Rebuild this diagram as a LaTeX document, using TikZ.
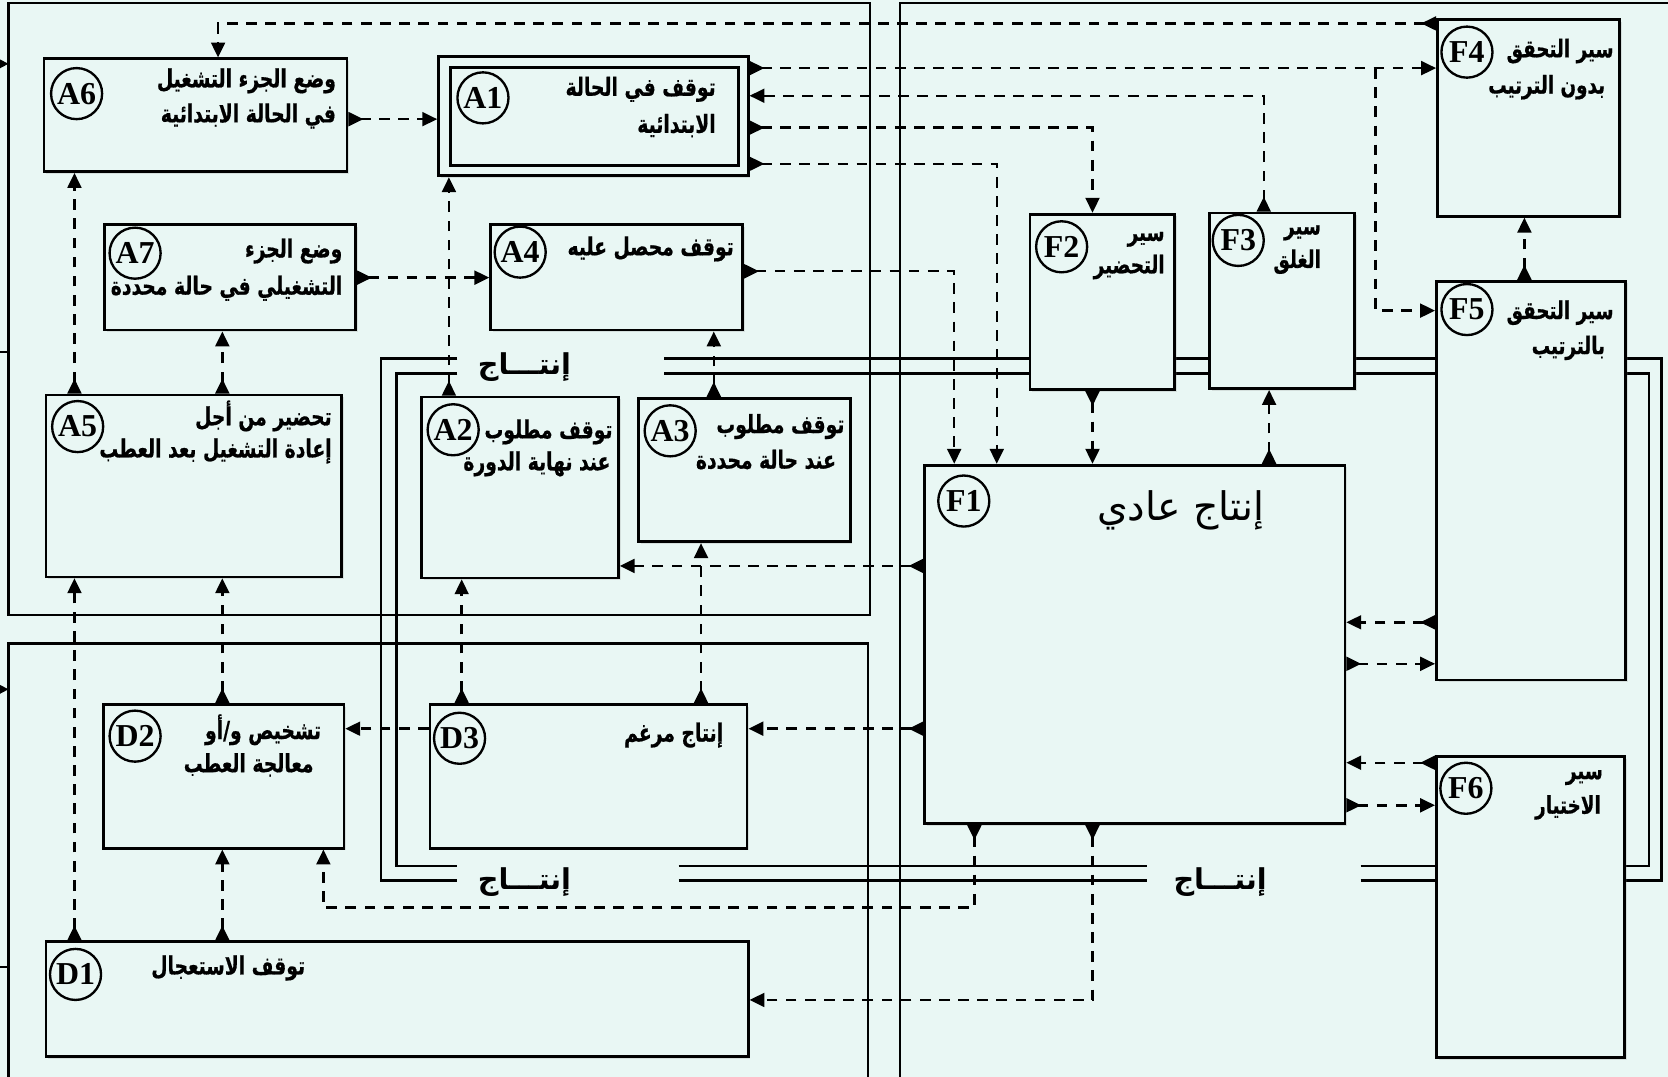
\documentclass[tikz,border=0pt]{standalone}
\usepackage{fontspec}
\usetikzlibrary{arrows.meta,shadows}
\TeXXeTstate=1
\newfontfamily\arfont[Script=Arabic, FakeStretch=0.75, BoldFeatures={FakeBold=0.6}]{DejaVu Sans}
\newfontfamily\arwide[Script=Arabic]{DejaVu Sans}
\newfontfamily\serfont{Liberation Serif}
\definecolor{bgc}{RGB}{233,247,244}
\pgfdeclarelayer{bglayer}
\pgfsetlayers{bglayer,main}
\newcommand\RL[1]{\beginR #1\endR}
\newcommand\gb[5]{\node[gbox, minimum width=#4pt, minimum height=#5pt] (#1) at (#2,#3) {};}
\begin{document}
\begin{tikzpicture}[x=1pt,y=-1pt, line join=miter,
  gbox/.style={draw, line width=2.6pt, fill=bgc, inner sep=0pt, anchor=north west,
    drop shadow={shadow xshift=2pt, shadow yshift=-2pt, opacity=0.2}},
  clab/.style={circle, draw, line width=2.2pt, fill=bgc, minimum size=48pt, inner sep=0pt,
    font=\serfont\bfseries\fontsize{30}{30}\selectfont},
  atext/.style={inner sep=0pt, anchor=east, font=\arfont\bfseries\fontsize{23.5}{27}\selectfont},
  ftext/.style={inner sep=0pt, anchor=east, font=\arfont\bfseries\fontsize{23}{27}\selectfont},
  plab/.style={inner sep=0pt, font=\arwide\bfseries\fontsize{27}{30}\selectfont},
  flow/.style={dash pattern=on 10pt off 8pt, line width=2.3pt,
    {Triangle[reversed,length=14pt,width=13pt]}-{Triangle[length=14pt,width=13pt]}},
  flowe/.style={dash pattern=on 10pt off 8pt, line width=2.3pt, -{Triangle[length=14pt,width=13pt]}},
  prod/.style={line width=2.5pt},
  frm/.style={line width=2.2pt}]

\useasboundingbox (0,0) rectangle (1568,1012);

% ---------- boxes ----------
\gb{A6}{40}{54}{285}{106}
\gb{A1}{411}{52}{291}{112}
\node[draw, line width=2.6pt, fill=bgc, inner sep=0pt, anchor=north west, minimum width=271pt, minimum height=92pt] (A1i) at (422,62) {};
\gb{A7}{97}{210}{236}{99}
\gb{A4}{460}{210}{237}{99}
\gb{A5}{42}{370}{278}{171}
\gb{A2}{395}{372}{185}{170}
\gb{A3}{599}{373}{199}{135}
\gb{F2}{967}{200}{136}{165}
\gb{F3}{1136}{199}{136}{165}
\gb{F4}{1350}{17}{171}{185}
\gb{F5}{1349}{263}{178}{375}
\gb{F6}{1349}{710}{177}{283}
\gb{F1}{868}{436}{395}{337}
\gb{D2}{96}{661}{226}{135}
\gb{D3}{403}{661}{298}{135}
\gb{D1}{42}{884}{660}{108}

% ---------- circles ----------
\node[clab] (cA6) at (72,88) {A6};
\node[clab] (cA1) at (454,92) {A1};
\node[clab] (cA7) at (127,238) {A7};
\node[clab] (cA4) at (489,237) {A4};
\node[clab] (cA5) at (73,401) {A5};
\node[clab] (cA2) at (426,404) {A2};
\node[clab] (cA3) at (630,405) {A3};
\node[clab] (cF1) at (906,471) {F1};
\node[clab] (cF2) at (998,232) {F2};
\node[clab] (cF3) at (1164,226) {F3};
\node[clab] (cF4) at (1379,49) {F4};
\node[clab] (cF5) at (1379,291) {F5};
\node[clab] (cF6) at (1378,741) {F6};
\node[clab] (cD2) at (127,692) {D2};
\node[clab] (cD3) at (432,694) {D3};
\node[clab] (cD1) at (71,916) {D1};

% ---------- texts ----------
\node[atext] (A6a) at (316,76) {\RL{وضع الجزء التشغيل}};
\node[atext] (A6b) at (316,109) {\RL{في الحالة الابتدائية}};
\node[atext] (A1a) at (673,84) {\RL{توقف في الحالة}};
\node[atext] (A1b) at (673,118) {\RL{الابتدائية}};
\node[atext] (A7a) at (322,236) {\RL{وضع الجزء}};
\node[atext] (A7b) at (322,271) {\RL{التشغيلي في حالة محددة}};
\node[atext] (A4a) at (690,234) {\RL{توقف محصل عليه}};
\node[atext] (A5a) at (312,391) {\RL{تحضير من أجل}};
\node[atext] (A5b) at (312,424) {\RL{إعادة التشغيل بعد العطب}};
\node[atext] (A2a) at (576,406) {\RL{توقف مطلوب}};
\node[atext] (A2b) at (574,436) {\RL{عند نهاية الدورة}};
\node[atext] (A3a) at (794,401) {\RL{توقف مطلوب}};
\node[atext] (A3b) at (786,432) {\RL{عند حالة محددة}};
\node[ftext] (F2a) at (1095,225) {\RL{سير}};
\node[ftext] (F2b) at (1095,251) {\RL{التحضير}};
\node[ftext] (F3a) at (1242,219) {\RL{سير}};
\node[ftext] (F3b) at (1242,246) {\RL{الغلق}};
\node[ftext] (F4a) at (1517,48) {\RL{سير التحقق}};
\node[ftext] (F4b) at (1509,82) {\RL{بدون الترتيب}};
\node[ftext] (F5a) at (1517,294) {\RL{سير التحقق}};
\node[ftext] (F5b) at (1509,327) {\RL{بالترتيب}};
\node[ftext] (F6a) at (1507,731) {\RL{سير}};
\node[ftext] (F6b) at (1505,759) {\RL{الاختيار}};
\node[atext] (D2a) at (302,686) {\RL{تشخيص و/أو}};
\node[atext] (D2b) at (295,719) {\RL{معالجة العطب}};
\node[atext] (D3a) at (680,691) {\RL{إنتاج مرغم}};
\node[atext] (D1a) at (287,910) {\RL{توقف الاستعجال}};
\node[inner sep=0pt, font=\arwide\fontsize{37}{42}\selectfont] (F1a) at (1110,480) {\RL{إنتاج عادي}};
\node[plab] (P1) at (493,345) {\RL{إنتـــاج}};
\node[plab] (P2) at (493,829) {\RL{إنتـــاج}};
\node[plab] (P3) at (1147,829) {\RL{إنتـــاج}};

% ---------- frames and production lines (background) ----------
\begin{pgfonlayer}{bglayer}
\fill[bgc] (0,0) rectangle (1568,1012);
\draw[frm] (8,578) -- (8,3) -- (818,3) -- (818,578) -- cycle;
\draw[frm] (8,1020) -- (8,605) -- (816,605) -- (816,1020);
\draw[frm] (846,1020) -- (846,3) -- (1575,3);
% left cut-off fragments
\coordinate (L1) at (8,60);
\coordinate (L2) at (8,648);
\draw[line width=2pt, -{Triangle[length=12pt,width=12pt]}] (-30,60) -- (L1);
\draw[line width=2pt, -{Triangle[length=12pt,width=12pt]}] (-30,648) -- (L2);
\draw[frm] (-10,331) -- (8,331);
\draw[frm] (-10,909) -- (8,909);
% outer production line
\draw[prod] (430,337) -- (358,337) -- (358,828) -- (430,828);
\draw[prod] (638,828) -- (1078,828);
\draw[prod] (1279,828) -- (F6.west |- 0,828);
\draw[prod] (F6.east |- 0,828) -- (1562,828) -- (1562,337) -- (F5.east |- 0,337);
\draw[prod] (F5.west |- 0,337) -- (F3.east |- 0,337);
\draw[prod] (F3.west |- 0,337) -- (F2.east |- 0,337);
\draw[prod] (F2.west |- 0,337) -- (624,337);
% inner production line
\draw[prod] (430,351) -- (373,351) -- (373,814) -- (430,814);
\draw[prod] (638,814) -- (1078,814);
\draw[prod] (1279,814) -- (F6.west |- 0,814);
\draw[prod] (F6.east |- 0,814) -- (1550,814) -- (1550,351) -- (F5.east |- 0,351);
\draw[prod] (F5.west |- 0,351) -- (F3.east |- 0,351);
\draw[prod] (F3.west |- 0,351) -- (F2.east |- 0,351);
\draw[prod] (F2.west |- 0,351) -- (624,351);
\end{pgfonlayer}

% ---------- connectors ----------
\draw[flow] (F4.west |- 0,22) -| (205,0 |- A6.north);
\draw[flow] (A1.east |- 0,64) -- (F4.west |- 0,64);
\coordinate (br) at (1293,64);
\draw[flowe] (br) |- (F5.west |- 0,292);
\draw[flow] (1188,0 |- F3.north) |- (A1.east |- 0,90);
\draw[flow] (A1.east |- 0,120) -| (1027,0 |- F2.north);
\draw[flow] (A1.east |- 0,154) -| (937,0 |- F1.north);
\draw[flow] (A4.east |- 0,255) -| (897,0 |- F1.north);
\draw[flow] (1027,0 |- F2.south) -- (1027,0 |- F1.north);
\draw[flow] (1193,0 |- F1.north) -- (1193,0 |- F3.south);
\draw[flow] (1433,0 |- F5.north) -- (1433,0 |- F4.south);
\draw[flow] (F5.west |- 0,585) -- (F1.east |- 0,585);
\draw[flow] (F1.east |- 0,624) -- (F5.west |- 0,624);
\draw[flow] (F6.west |- 0,717) -- (F1.east |- 0,717);
\draw[flow] (F1.east |- 0,757) -- (F6.west |- 0,757);
\draw[flow] (F1.west |- 0,532) -- (A2.east |- 0,532);
\draw[flow] (F1.west |- 0,685) -- (D3.east |- 0,685);
\draw[flow] (A6.east |- 0,112) -- (A1.west |- 0,112);
\draw[flow] (A7.east |- 0,261) -- (A4.west |- 0,261);
\draw[flow] (70,0 |- A5.north) -- (70,0 |- A6.south);
\draw[flow] (209,0 |- A5.north) -- (209,0 |- A7.south);
\draw[flow] (422,0 |- A2.north) -- (422,0 |- A1.south);
\draw[flow] (671,0 |- A3.north) -- (671,0 |- A4.south);
\draw[flow] (209,0 |- D2.north) -- (209,0 |- A5.south);
\draw[flow] (70,0 |- D1.north) -- (70,0 |- A5.south);
\draw[flow] (209,0 |- D1.north) -- (209,0 |- D2.south);
\draw[flow] (434,0 |- D3.north) -- (434,0 |- A2.south);
\draw[flow] (659,0 |- D3.north) -- (659,0 |- A3.south);
\draw[flowe] (D3.west |- 0,685) -- (D2.east |- 0,685);
\draw[flow] (916,0 |- F1.south) -- (916,853) -- (304,853) -- (304,0 |- D2.south);
\draw[flow] (1027,0 |- F1.south) |- (D1.east |- 0,940);
\end{tikzpicture}
\end{document}
